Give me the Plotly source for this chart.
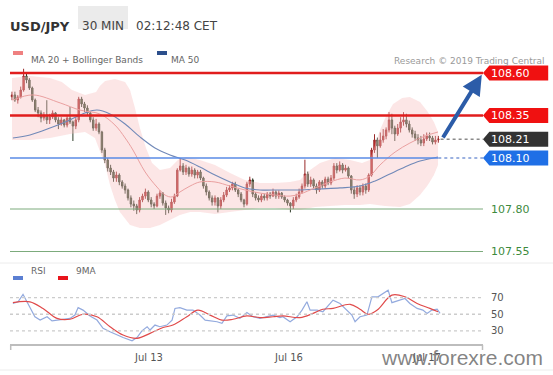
import plotly.graph_objects as go

# ---------------- data ----------------
close = [108.471,108.441,108.459,108.500,108.582,108.559,108.512,108.441,108.382,108.365,
 108.335,108.353,108.324,108.341,108.365,108.324,108.300,108.324,108.294,108.335,
 108.312,108.288,108.324,108.447,108.418,108.394,108.365,108.324,108.276,108.300,
 108.253,108.147,108.088,108.041,108.018,107.982,108.000,107.959,107.935,107.912,
 107.865,107.829,107.818,107.794,107.853,107.876,107.900,107.853,107.829,107.818,
 107.876,107.894,107.835,107.806,107.794,107.841,107.876,108.029,108.053,108.018,
 108.041,108.006,108.029,108.000,108.018,107.982,107.935,107.900,107.865,107.841,
 107.865,107.818,107.853,107.882,107.912,107.924,107.947,107.912,107.888,107.853,
 107.829,107.947,107.971,107.888,107.865,107.853,107.876,107.865,107.888,107.876,
 107.900,107.876,107.894,107.871,107.853,107.835,107.818,107.853,107.871,107.900,
 107.935,108.006,107.947,107.971,107.935,107.912,107.959,107.935,107.976,107.953,
 107.982,108.053,108.029,108.059,108.029,108.041,107.994,107.912,107.888,107.924,
 107.900,107.935,107.912,108.000,108.147,108.206,108.171,108.206,108.229,108.265,
 108.324,108.276,108.241,108.276,108.312,108.324,108.300,108.265,108.241,108.218,
 108.206,108.188,108.212,108.229,108.218,108.194,108.206,108.212]

high = [108.49,108.49,108.47,108.52,108.625,108.60,108.57,108.52,108.45,108.40,
 108.38,108.37,108.44,108.36,108.38,108.37,108.34,108.34,108.33,108.35,
 108.40,108.32,108.34,108.46,108.46,108.43,108.41,108.37,108.34,108.33,
 108.31,108.26,108.16,108.10,108.06,108.03,108.02,108.01,107.97,107.95,
 107.92,107.88,107.85,107.83,107.87,107.89,107.92,107.91,107.87,107.84,
 107.89,107.91,107.90,107.85,107.82,107.86,107.89,108.04,108.10,108.07,
 108.06,108.05,108.05,108.04,108.03,108.03,107.99,107.95,107.91,107.88,
 107.88,107.87,107.87,107.90,107.93,107.94,107.96,107.96,107.92,107.90,
 107.86,107.96,107.99,107.98,107.90,107.88,107.89,107.89,107.90,107.90,
 107.92,107.91,107.91,107.90,107.88,107.86,107.84,107.87,107.89,107.92,
 107.95,108.09,108.02,107.99,107.98,107.95,107.97,107.97,107.99,107.99,
 108.00,108.07,108.07,108.08,108.07,108.06,108.05,108.00,107.93,107.94,
 107.94,107.95,107.95,108.01,108.16,108.24,108.22,108.25,108.27,108.28,
 108.37,108.36,108.29,108.30,108.34,108.37,108.36,108.32,108.28,108.26,
 108.24,108.23,108.24,108.25,108.25,108.23,108.23,108.23]

low = [108.44,108.43,108.42,108.45,108.49,108.54,108.50,108.43,108.37,108.34,
 108.31,108.32,108.30,108.30,108.33,108.31,108.27,108.29,108.28,108.28,
 108.30,108.20,108.27,108.31,108.40,108.37,108.35,108.31,108.26,108.26,
 108.24,108.13,108.07,108.02,108.00,107.96,107.96,107.94,107.92,107.89,
 107.85,107.81,107.79,107.77,107.78,107.84,107.86,107.84,107.81,107.80,
 107.81,107.86,107.82,107.765,107.775,107.78,107.83,107.87,108.02,108.00,
 108.00,107.99,107.99,107.98,107.98,107.97,107.92,107.88,107.85,107.82,
 107.82,107.78,107.80,107.84,107.87,107.90,107.91,107.90,107.87,107.84,
 107.81,107.82,107.93,107.87,107.85,107.84,107.84,107.85,107.85,107.86,
 107.87,107.86,107.86,107.86,107.84,107.82,107.78,107.80,107.84,107.86,
 107.89,107.92,107.93,107.93,107.92,107.89,107.90,107.92,107.92,107.94,
 107.94,107.97,108.01,108.02,108.01,108.02,107.98,107.89,107.86,107.87,
 107.88,107.88,107.89,107.90,107.99,108.13,108.10,108.16,108.19,108.21,
 108.25,108.24,108.20,108.23,108.25,108.29,108.28,108.25,108.22,108.20,
 108.18,108.17,108.17,108.20,108.20,108.18,108.18,108.19]

first_open = 108.46
open_ = [first_open] + close[:-1]          # FX bars open at the previous close
bar_idx = list(range(len(close)))

band_up_idx = [0,6.2,13.1,17.2,20.7,25.2,29.0,30.3,32.1,35.5,39.0,40.7,42.4,44.1,46.2,48.3,51.0,54.5,
               57.2,60.0,64.8,70.0,75.2,80.3,85.5,90.7,95.9,99.3,102.8,106.2,111.4,116.6,120.7,
               123.4,125.2,126.9,129.0,131.4,134.5,137.2,140.7,143.4,145.5,146.9]
band_up = [108.570,108.582,108.570,108.547,108.500,108.471,108.488,108.524,108.553,108.565,108.547,
           108.500,108.394,108.276,108.159,108.071,108.029,108.041,108.088,108.106,108.088,108.059,
           108.012,107.971,107.953,107.953,107.959,107.971,108.029,108.071,108.100,108.088,108.071,
           108.088,108.176,108.265,108.347,108.418,108.453,108.459,108.429,108.371,108.312,108.253]
band_lo_idx = [0,6.2,13.1,20.0,25.2,28.6,30.3,32.1,33.8,35.5,37.2,40.7,44.1,47.6,51.0,54.5,57.9,61.4,
               64.8,70.0,75.2,80.3,85.5,90.7,95.9,99.3,104.5,109.7,114.8,120.0,123.4,128.6,133.8,
               137.2,140.7,143.4,145.5,146.9]
band_lo = [108.206,108.206,108.218,108.241,108.253,108.218,108.147,108.059,107.941,107.853,107.782,
           107.706,107.688,107.688,107.706,107.735,107.765,107.782,107.782,107.771,107.782,107.794,
           107.806,107.806,107.794,107.794,107.812,107.818,107.824,107.824,107.829,107.818,107.812,
           107.829,107.882,107.941,108.000,108.059]

ma20_idx = [0.3,7.2,16.6,23.4,30.3,35.5,39.0,41.7,45.9,50.0,52.8,55.2,57.9,61.4,64.8,70.0,75.2,80.3,
            85.5,90.7,95.9,99.3,104.5,109.7,114.8,120.0,123.4,126.9,132.1,137.2,142.4,146.9]
ma20 = [108.441,108.471,108.424,108.382,108.359,108.294,108.218,108.147,108.018,107.929,107.882,
        107.871,107.900,107.935,107.959,107.959,107.935,107.912,107.894,107.882,107.876,107.888,
        107.924,107.959,107.982,107.971,107.994,108.059,108.135,108.188,108.229,108.253]

ma50_idx = [0.3,6.2,13.1,20.0,25.2,29.3,33.8,39.0,44.1,49.3,54.5,59.7,64.8,70.0,75.2,80.3,85.5,92.4,
            99.3,106.2,113.1,120.0,125.2,130.3,135.5,140.7,146.9]
ma50 = [108.218,108.235,108.276,108.324,108.365,108.382,108.359,108.300,108.224,108.159,108.118,
        108.088,108.047,108.000,107.959,107.924,107.912,107.912,107.912,107.918,107.924,107.935,
        107.965,108.006,108.047,108.082,108.106]

rsi_idx = [0.3,2.1,3.8,5.2,6.9,7.9,9.7,12.1,13.8,16.6,20.0,21.7,22.8,24.5,26.9,29.3,31.4,33.8,36.2,
           38.3,41.4,43.1,44.8,46.6,47.6,49.3,51.0,53.4,55.2,56.2,57.9,60.3,62.4,64.8,66.6,68.3,
           70.7,72.4,74.1,76.2,78.6,81.0,83.1,85.5,87.9,90.0,92.4,93.4,95.9,98.3,100.0,101.7,
           102.8,105.2,107.2,110.7,113.1,115.5,117.2,118.3,120.0,122.4,124.1,126.2,127.9,129.7,
           131.0,133.1,135.5,137.2,139.7,141.7,143.1,144.8,146.6,147.6]
rsi = [63,65,74,65,55,47,43,47,42,43,45,49,58,55,48,43,33,29,25,22,18,22,30,35,31,37,35,37,43,57,
       58,55,55,49,43,42,41,39,48,49,45,52,47,45,47,49,46,47,41,47,55,65,55,55,53,67,63,55,49,41,
       47,49,71,71,75,79,64,66,69,63,57,55,51,55,56,51]

rsi_ma_idx = [0.3,6.2,10.7,15.5,20.0,24.5,29.3,33.8,38.3,43.1,47.6,52.1,55.5,60.3,64.1,68.3,72.4,
              76.2,81.0,85.5,90.0,93.4,99.3,103.8,107.2,110.7,116.6,120.0,122.8,125.9,131.0,135.5,
              139.7,144.1,146.9]
rsi_ma = [64,65,57,45,44,50,47,35,25,21,27,34,37,47,55,49,43,44,48,46,47,48,46,51,56,57,62,56,50,
          55,73,71,63,57,53]

tick_idx = [47.2, 95.5, 143.1]
tick_text = ["Jul 13", "Jul 16", "Jul 17"]

level_values = [108.60, 108.35, 108.21, 108.10, 107.80, 107.55]
level_text = ["108.60", "108.35", "108.21", "108.10", "107.80", "107.55"]
rsi_levels = [70, 50, 30]
rsi_level_text = ["70", "50", "30"]

# ---------------- layout helpers ----------------
W, H = 553, 375
ML = 10
X_RANGE = [-0.69, 186.55]
LINE_END = 162.41          # right end of the level lines
FONT = "DejaVu Sans"


def px(x):
    return (x - ML) / (W - ML)


def py(y):
    return 1 - y / H


MAIN_DOM = [py(258), py(62)]
RSI_DOM = [py(345), py(285)]
MAIN_RANGE = [107.5118, 108.6647]
RSI_RANGE = [13.0, 85.2]

fig = go.Figure()

# Bollinger band
fig.add_trace(go.Scatter(x=band_up_idx + band_lo_idx[::-1], y=band_up + band_lo[::-1],
                         fill="toself", fillcolor="rgba(248,192,192,0.40)", mode="lines",
                         line=dict(width=0), hoverinfo="skip"))
fig.add_trace(go.Scatter(x=ma50_idx, y=ma50, mode="lines", line=dict(color="#7189b8", width=1.1,
                                                                       shape="spline")))
fig.add_trace(go.Scatter(x=ma20_idx, y=ma20, mode="lines", line=dict(color="#eaa0a0", width=1,
                                                                       shape="spline")))
fig.add_trace(go.Candlestick(x=bar_idx, open=open_, high=high, low=low, close=close,
                             increasing=dict(line=dict(color="#9a2a2a", width=1), fillcolor="#d42f2f"),
                             decreasing=dict(line=dict(color="#2f3d2a", width=1), fillcolor="#4c6a3a"),
                             whiskerwidth=0))

# RSI panel
fig.add_trace(go.Scatter(x=rsi_idx, y=rsi, mode="lines", xaxis="x2", yaxis="y2",
                         line=dict(color="#93aade", width=1.2)))
fig.add_trace(go.Scatter(x=rsi_ma_idx, y=rsi_ma, mode="lines", xaxis="x2", yaxis="y2",
                         line=dict(color="#e04a4a", width=1.2, shape="spline")))

shapes = []
annotations = []

# level lines
red, blue, grey, green = "#e11d1d", "#5a8be6", "#333333", "#7cab7c"
last_i = bar_idx[-1]
for v, t in zip(level_values, level_text):
    if t in ("108.60", "108.35"):
        shapes.append(dict(type="line", xref="x", yref="y", x0=X_RANGE[0], x1=LINE_END, y0=v, y1=v,
                           line=dict(color=red, width=2.5)))
        box = "#f01111"
    elif t == "108.21":
        shapes.append(dict(type="line", xref="x", yref="y", x0=last_i + 0.8, x1=LINE_END, y0=v, y1=v,
                           line=dict(color="#8a8a8a", width=1.5, dash="dot")))
        box = grey
    elif t == "108.10":
        shapes.append(dict(type="line", xref="x", yref="y", x0=X_RANGE[0], x1=last_i, y0=v, y1=v,
                           line=dict(color=blue, width=1.5)))
        shapes.append(dict(type="line", xref="x", yref="y", x0=last_i, x1=LINE_END, y0=v, y1=v,
                           line=dict(color="#7b98d6", width=1.5, dash="dot")))
        box = "#1f6fe6"
    else:
        shapes.append(dict(type="line", xref="x", yref="y", x0=X_RANGE[0], x1=LINE_END, y0=v, y1=v,
                           line=dict(color=green, width=1)))
        box = None
    if box:
        hh = 7.5 / 170.0
        path = (f"M {LINE_END},{v} L {LINE_END + 2.2},{v + hh} L 184.9,{v + hh} "
                f"L 184.9,{v - hh} L {LINE_END + 2.2},{v - hh} Z")
        shapes.append(dict(type="path", xref="x", yref="y", path=path, fillcolor=box,
                           line=dict(width=0)))
        annotations.append(dict(x=172.0, y=v, xref="x", yref="y", text=t, showarrow=False,
                                xanchor="center", font=dict(family=FONT, size=11, color="white")))
    else:
        annotations.append(dict(x=172.0, y=v, xref="x", yref="y", text=t, showarrow=False,
                                xanchor="center", font=dict(family=FONT, size=11, color="#3d8a3d")))

# target arrow
annotations.append(dict(x=162.0, y=level_values[0] - 0.01, xref="x", yref="y",
                        ax=len(close) + 0.3, ay=close[-1], axref="x", ayref="y", text="",
                        showarrow=True, arrowhead=2, arrowsize=1.0, arrowwidth=4,
                        arrowcolor="#2c5ca8", standoff=0, startstandoff=0))

# RSI grid + labels
for v, t in zip(rsi_levels, rsi_level_text):
    shapes.append(dict(type="line", xref="x2", yref="y2", x0=X_RANGE[0], x1=LINE_END, y0=v, y1=v,
                       line=dict(color="#cccccc", width=1.3, dash="dot")))
    annotations.append(dict(x=164.6, y=v, xref="x2", yref="y2", text=t, showarrow=False,
                            xanchor="left", font=dict(family=FONT, size=10, color="#555555")))

# date labels under the RSI panel
for v, t in zip(tick_idx, tick_text):
    annotations.append(dict(x=v, y=py(357), xref="x2", yref="paper", text=t, showarrow=False,
                            xanchor="center", yanchor="middle",
                            font=dict(family=FONT, size=10, color="#555555")))

# RSI bottom axis line with end ticks
shapes.append(dict(type="line", xref="paper", yref="paper", x0=px(10), x1=px(483), y0=py(345),
                   y1=py(345), line=dict(color="#bdbdbd", width=2)))
for xx in (10.7, 482.5):
    shapes.append(dict(type="line", xref="paper", yref="paper", x0=px(xx), x1=px(xx), y0=py(345),
                       y1=py(350), line=dict(color="#bdbdbd", width=1.5)))

# separators
for yy in (263, 370):
    shapes.append(dict(type="line", xref="paper", yref="paper", x0=px(0), x1=px(553), y0=py(yy),
                       y1=py(yy), line=dict(color="#ececec", width=1)))

# header
shapes.append(dict(type="rect", xref="paper", yref="paper", x0=px(78), x1=px(128), y0=py(29),
                   y1=py(6), fillcolor="#ebebeb", line=dict(width=0), layer="below"))
annotations += [
    dict(x=px(8), y=py(17.5), xref="paper", yref="paper", text="<b>USD/JPY</b>", xanchor="left",
         showarrow=False, font=dict(family=FONT, size=13, color="#333333")),
    dict(x=px(103), y=py(17.5), xref="paper", yref="paper", text="30 MIN", showarrow=False,
         xanchor="center", font=dict(family=FONT, size=12, color="#444444")),
    dict(x=px(134), y=py(17.5), xref="paper", yref="paper", text="02:12:48 CET", xanchor="left",
         showarrow=False, font=dict(family=FONT, size=12, color="#444444")),
]

# legend rows
def legend_item(x_rect, x_text, y, color, text):
    shapes.append(dict(type="rect", xref="paper", yref="paper", x0=px(x_rect), x1=px(x_rect + 10),
                       y0=py(y + 2), y1=py(y - 2), fillcolor=color, line=dict(width=0)))
    annotations.append(dict(x=px(x_text), y=py(y), xref="paper", yref="paper", text=text,
                            xanchor="left", showarrow=False,
                            font=dict(family=FONT, size=9, color="#666666")))


legend_item(13, 29, 53, "#ef8080", "MA 20 + Bollinger Bands")
legend_item(157, 169, 53, "#2c4f8c", "MA 50")
legend_item(13, 29, 278, "#5b7fd2", "RSI")
legend_item(58, 74, 278, "#e8141c", "9MA")

annotations.append(dict(x=px(546), y=py(54), xref="paper", yref="paper",
                        text="Research © 2019 Trading Central", xanchor="right", showarrow=False,
                        font=dict(family=FONT, size=9, color="#9a9a9a")))

# watermark
annotations.append(dict(x=px(462), y=py(357), xref="paper", yref="paper", text="www.forexre.com",
                        showarrow=False, xanchor="center", yanchor="middle",
                        font=dict(family="Liberation Sans", size=21, color="rgba(110,110,110,0.85)")))

axis_common = dict(range=X_RANGE, showgrid=False, zeroline=False, showline=False, fixedrange=True)
fig.update_layout(
    width=W, height=H, margin=dict(l=ML, r=0, t=0, b=0),
    paper_bgcolor="white", plot_bgcolor="white", showlegend=False,
    font=dict(family=FONT),
    xaxis=dict(domain=[0, 1], anchor="y", showticklabels=False, rangeslider=dict(visible=False),
               **axis_common),
    yaxis=dict(domain=MAIN_DOM, range=MAIN_RANGE, visible=False, anchor="x"),
    xaxis2=dict(domain=[0, 1], anchor="y2", showticklabels=False, **axis_common),
    yaxis2=dict(domain=RSI_DOM, range=RSI_RANGE, visible=False, anchor="x2"),
    shapes=shapes, annotations=annotations,
)

fig.write_html("out.html")
